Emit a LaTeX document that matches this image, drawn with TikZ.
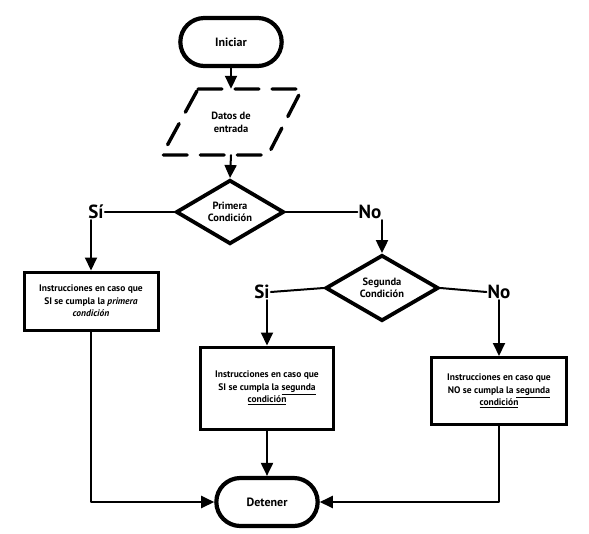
\documentclass[tikz,border=0pt]{standalone}
\usepackage{fontspec}
\setmainfont{PT Sans}
\usetikzlibrary{shapes.geometric,shapes.misc,arrows.meta}
\tikzset{
  pill/.style={rounded rectangle, draw, line width=4.2pt, minimum width=108pt, minimum height=48pt, font=\bfseries\fontsize{12}{14}\selectfont},
  cond/.style={diamond, draw, line width=3.8pt, inner sep=0pt, font=\bfseries\fontsize{10.5}{12.5}\selectfont, align=center},
  instr/.style={rectangle, draw, line width=3pt, align=center, inner sep=2pt, font=\bfseries\fontsize{9.5}{12.5}\selectfont},
  lbl/.style={font=\bfseries\fontsize{19}{21}\selectfont, inner sep=1pt},
  conn/.style={line width=2pt, line cap=round, line join=round},
  arr/.style={conn, -{Triangle[length=13pt,width=12pt]}},
}
\begin{document}
\begin{tikzpicture}[x=1pt,y=-1pt]
\useasboundingbox (0,0) rectangle (589,533);
\node[pill] (ini) at (231,42) {Iniciar};
\node[font=\bfseries\fontsize{10.5}{13}\selectfont, align=center, minimum height=66pt, minimum width=100pt, inner sep=0pt] (datos) at (231,122) {Datos de\\entrada};
\draw[line width=3.4pt, dash pattern=on 24pt off 13pt, line cap=round]
  (198,89) -- (302,89) -- (268,155) -- (162,155) -- cycle;
\node[cond, minimum width=108pt, minimum height=62pt] (d1) at (230,212) {Primera\\Condición};
\node[lbl] (si1) at (96,212) {Sí};
\node[lbl] (no1) at (370,212) {No};
\node[instr, minimum width=134pt, minimum height=58pt] (b1) at (91,301) {Instrucciones en caso que\\SI se cumpla la \textit{primera}\\\textit{condición}};
\node[cond, minimum width=113pt, minimum height=66pt] (d2) at (382,288) {Segunda\\Condición};
\node[lbl] (si2) at (262,292) {Si};
\node[lbl] (no2) at (499,292) {No};
\node[instr, minimum width=133pt, minimum height=82pt] (b2) at (267,388) {Instrucciones en caso que\\SI se cumpla la \underline{segunda}\\\underline{condición}};
\node[instr, minimum width=135pt, minimum height=67pt] (b3) at (499,391) {Instrucciones en caso que\\NO se cumpla la \underline{segunda}\\\underline{condición}};
\node[pill] (det) at (267,502) {Detener};
% connectors
\draw[arr] (ini.south) -- (datos.north);
\draw[arr] (datos.south) -- (d1.north);
\draw[conn] (d1.west) -- (si1.east);
\draw[conn] (d1.east) -- (no1.west);
\draw[arr] (b1.north |- si1.south) -- (b1.north);
\draw[arr] (d2.north |- no1.south) -- (d2.north);
\draw[conn] (d2.west) -- (si2.east);
\draw[conn] (d2.east) -- (no2.west);
\draw[arr] (b2.north |- si2.south) -- (b2.north);
\draw[arr] (b3.north |- no2.south) -- (b3.north);
\draw[arr] (b1.south) |- (det.west);
\draw[arr] (b2.south) -- (det.north);
\draw[arr] (b3.south) |- (det.east);
\end{tikzpicture}
\end{document}
